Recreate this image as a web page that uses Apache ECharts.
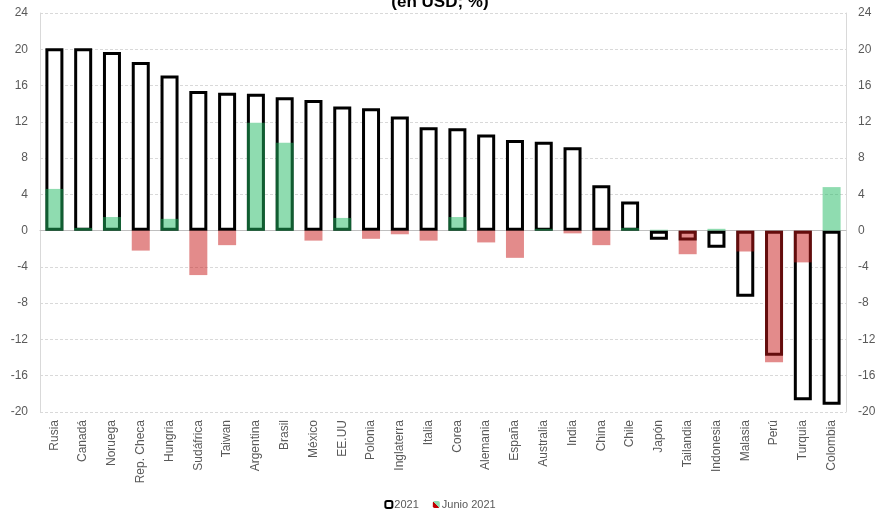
<!DOCTYPE html>
<html>
<head>
<meta charset="utf-8">
<script src="https://cdn.jsdelivr.net/npm/echarts@6/dist/echarts.min.js"></script>
<style>html,body{margin:0;padding:0;background:#fff}#c{width:880px;height:516px}</style>
</head>
<body>
<div id="c"></div>
<script>
const categories = ["Rusia","Canadá","Noruega","Rep. Checa","Hungria","Sudáfrica","Taiwan","Argentina","Brasil","México","EE.UU","Polonia","Inglaterra","Italia","Corea","Alemania","España","Australia","India","China","Chile","Japón","Tailandia","Indonesia","Malasia","Perú","Turquia","Colombia"];
const values2021 = [20.1,20.1,19.7,18.6,17.1,15.4,15.2,15.1,14.7,14.4,13.7,13.5,12.6,11.4,11.3,10.6,10.0,9.8,9.2,5.0,3.2,-1.0,-1.1,-1.9,-7.3,-13.8,-18.7,-19.2];
const valuesJunio = [4.6,0.3,1.5,-2.2,1.3,-4.9,-1.6,11.9,9.7,-1.1,1.4,-0.9,-0.4,-1.1,1.5,-1.3,-3.0,0.2,-0.3,-1.6,0.3,0.1,-2.6,0.2,-2.3,-14.5,-3.5,4.8];
const yTicks = [-20,-16,-12,-8,-4,0,4,8,12,16,20,24];

const GREEN = 'rgba(31,185,97,0.5)';
const RED = 'rgba(199,23,23,0.5)';

const chart = echarts.init(document.getElementById('c'), null, {renderer:'canvas'});
const yAxisCommon = {
  type:'value', min:-20, max:24, interval:4,
  axisLine:{show:true, lineStyle:{color:'#d9d9d9'}},
  axisTick:{show:false},
  axisLabel:{color:'#595959', fontSize:12, fontFamily:'Liberation Sans, Arial', margin:12},
  splitLine:{show:true, lineStyle:{color:'#d9d9d9', type:[3,2]}}
};
chart.setOption({
  animation:false,
  title:{text:'(en USD; %)', left:'center', top:-11,
    textStyle:{fontSize:17, fontWeight:'bold', color:'#000', fontFamily:'Liberation Sans, Arial'}},
  grid:{left:40, right:34, top:13, bottom:104},
  legend:{bottom:1, left:'center', itemWidth:7, itemHeight:7, itemGap:14,
    textStyle:{color:'#595959', fontSize:11, fontFamily:'Liberation Sans, Arial', padding:[0,0,0,-3]},
    data:[{name:'2021', itemStyle:{color:'#fff', borderColor:'#000', borderWidth:2}}, {name:'Junio 2021'}]},
  xAxis:{type:'category', data:categories,
    axisLine:{show:true, onZero:true, lineStyle:{color:'#bfbfbf', width:1}},
    axisTick:{show:false},
    axisLabel:{rotate:90, color:'#595959', fontSize:12, fontFamily:'Liberation Sans, Arial', interval:0, margin:8}},
  yAxis:[Object.assign({}, yAxisCommon), Object.assign({}, yAxisCommon, {position:'right', splitLine:{show:false}})],
  series:[
    {name:'2021', type:'bar', data:values2021, barWidth:18, barGap:'-100%',
      itemStyle:{color:'#fff', borderColor:'#000', borderWidth:3}},
    {name:'Junio 2021', type:'bar', barWidth:18, barGap:'-100%',
      itemStyle:{color:new echarts.graphic.LinearGradient(0,1,1,0,[
        {offset:0,color:'#c00000'},{offset:0.5,color:'#c00000'},{offset:0.5,color:'#8fdcb0'},{offset:1,color:'#8fdcb0'}])},
      data:valuesJunio.map(v=>({value:v, itemStyle:{color: v>=0?GREEN:RED}}))}
  ]
});
</script>
</body>
</html>
